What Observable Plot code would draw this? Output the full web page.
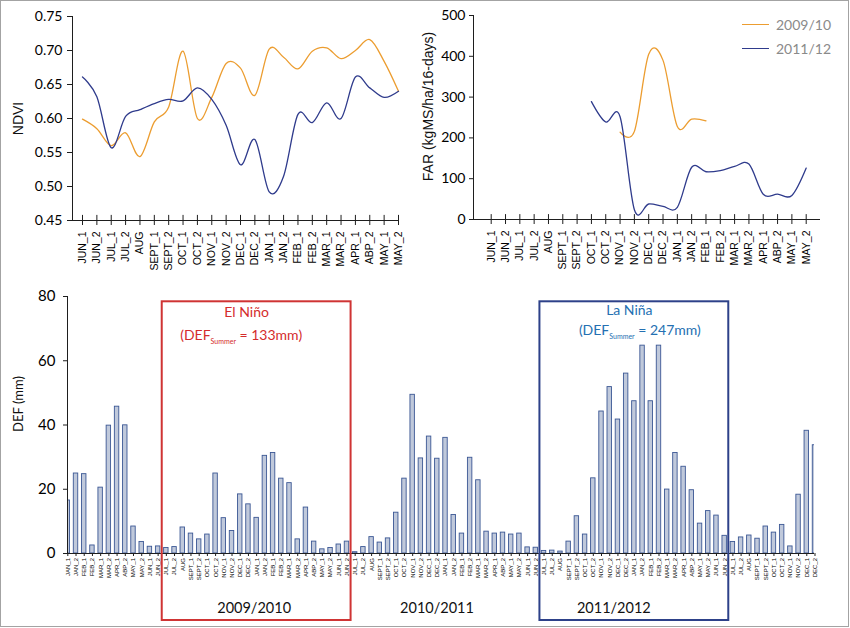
<!DOCTYPE html>
<html>
<head>
<meta charset="utf-8">
<script src="https://cdn.jsdelivr.net/npm/d3@7"></script>
<script src="https://cdn.jsdelivr.net/npm/@observablehq/plot@0.6"></script>
<style>
  body { margin: 0; background: #fff; }
  #root { position: relative; width: 850px; height: 628px; overflow: hidden; background: #fff; }
  #border { position: absolute; left: 0; top: 0; width: 849px; height: 627px; box-sizing: border-box; border: 1.5px solid #a3a3a3; pointer-events: none; }
  .panel { position: absolute; }
  .panel svg { overflow: visible; }
  #legend { position: absolute; left: 742px; top: 12px; font-family: Lato, sans-serif; font-size: 14px; color: #8a8a8a; }
  #legend div { display: flex; align-items: center; height: 24px; }
  #legend span.sw { display: inline-block; width: 27px; height: 0; border-top: 1.4px solid; margin-right: 7px; }
</style>
</head>
<body>
<div id="root">
  <div id="p1" class="panel" style="left:0;top:0"></div>
  <div id="p2" class="panel" style="left:420px;top:0"></div>
  <div id="p3" class="panel" style="left:0;top:280px"></div>
  <div id="legend"></div>
  <div id="border"></div>
</div>
<script>
// ---------- data ----------
const seasonPeriods = ["JUN_1","JUN_2","JUL_1","JUL_2","AUG","SEPT_1","SEPT_2","OCT_1","OCT_2","NOV_1","NOV_2","DEC_1","DEC_2","JAN_1","JAN_2","FEB_1","FEB_2","MAR_1","MAR_2","APR_1","ABP_2","MAY_1","MAY_2"];
const seriesNames = ["2009/10", "2011/12"];
const seriesColors = ["#ec9d30", "#2f3b8c"];

const ndvi0910 = [0.599,0.585,0.560,0.579,0.544,0.595,0.617,0.699,0.600,0.631,0.681,0.674,0.634,0.702,0.690,0.673,0.699,0.704,0.688,0.700,0.716,0.684,0.640];
const ndvi1112 = [0.661,0.632,0.557,0.603,0.613,0.622,0.628,0.626,0.645,0.628,0.590,0.532,0.569,0.492,0.515,0.606,0.594,0.623,0.600,0.661,0.645,0.631,0.640];
const ndviTicks = [0.45,0.50,0.55,0.60,0.65,0.70,0.75];

const far0910 = [null,null,null,null,null,null,null,null,null,214,216,405,390,228,246,242,null,null,null,null,null,null,null];
const far1112 = [null,null,null,null,null,null,null,289,239,252,24,38,32,30,128,117,120,130,136,62,62,59,126];
const farTicks = [0,100,200,300,400,500];

const defPeriods = ["JAN_1","JAN_2","FEB_1","FEB_2","MAR_1","MAR_2","APR_1","ABP_2","MAY_1","MAY_2","JUN_1","JUN_2","JUL_1","JUL_2","AUG","SEPT_1","SEPT_2","OCT_1","OCT_2","NOV_1","NOV_2","DEC_1","DEC_2"];
const defYears = [2009, 2010, 2011, 2012];
const def2009 = [16.5,24.9,24.7,2.5,20.5,39.8,45.7,39.9,8.4,3.6,2.1,2.2,1.7,2.0,8.1,6.2,4.4,5.9,24.9,11.0,7.0,18.4,15.3];
const def2010 = [11.1,30.4,31.3,23.3,21.9,4.4,14.3,3.7,1.3,1.7,2.8,3.7,0.4,2.0,5.1,3.4,4.7,12.7,23.3,49.4,29.6,36.4,29.5];
const def2011 = [36.0,12.0,6.2,29.8,22.8,6.8,6.2,6.5,5.9,6.2,1.9,1.8,0.8,0.9,0.6,3.7,11.6,5.9,23.4,44.2,51.8,41.7,56.0];
const def2012 = [47.4,64.7,47.4,64.7,19.9,31.3,27.0,19.7,9.3,13.2,11.8,5.5,3.6,5.0,5.6,4.6,8.4,6.5,8.9,2.2,18.3,38.2,33.7];
const defTicks = [0,20,40,60,80];

const ensoNames = ["El Niño", "La Niña"];
const ensoDef = ["133mm", "247mm"];
const ensoFrom = ["2009 JUL_1", "2011 JUL_1"];
const ensoTo = ["2010 JUN_2", "2012 JUN_2"];
const seasonLabels = ["2009/2010", "2010/2011", "2011/2012"];
const seasonFrom = ["2009 JUL_1", "2010 JUL_1", "2011 JUL_1"];
const seasonTo = ["2010 JUN_2", "2011 JUN_2", "2012 JUN_2"];

// ---------- helpers ----------
const axisColor = "#1e1e1e";
const rowsOf = (vals) => seasonPeriods.map((p, i) => ({period: p, value: vals[i]})).filter(d => d.value != null);

// ---------- NDVI panel ----------
const ndviPlot = Plot.plot({
  width: 420, height: 280,
  marginLeft: 72, marginRight: 21, marginTop: 16, marginBottom: 60,
  style: {background: "transparent", overflow: "visible"},
  x: {type: "point", domain: seasonPeriods, range: [82, 398], padding: 0, round: false},
  y: {domain: [0.45, 0.75]},
  marks: [
    Plot.frame({anchor: "left", stroke: axisColor}),
    Plot.ruleY([0.45], {stroke: axisColor}),
    Plot.ruleX(seasonPeriods, {x: d => d, y1: 0.45, y2: 0.4575, stroke: axisColor}),
    Plot.axisY(ndviTicks, {tickSize: 5, tickPadding: 5, tickFormat: d3.format(".2f"), fontSize: 14, fontFamily: "Lato", label: null, stroke: axisColor}),
    Plot.axisX({tickRotate: -90, tickSize: 5, tickPadding: 6, fontSize: 10.5, fontFamily: "Liberation Sans", label: null, stroke: axisColor}),
    Plot.text(["NDVI"], {text: d => d, frameAnchor: "left", dx: -54, rotate: -90, textAnchor: "middle", fontSize: 14, fontFamily: "Liberation Sans", fill: "#111"}),
    Plot.line(rowsOf(ndvi0910), {x: "period", y: "value", stroke: seriesColors[0], strokeWidth: 1.3, curve: "cardinal"}),
    Plot.line(rowsOf(ndvi1112), {x: "period", y: "value", stroke: seriesColors[1], strokeWidth: 1.3, curve: "cardinal"})
  ]
});
document.getElementById("p1").append(ndviPlot);

// ---------- FAR panel ----------
const farPlot = Plot.plot({
  width: 430, height: 280,
  marginLeft: 53, marginRight: 30, marginTop: 15, marginBottom: 61,
  style: {background: "transparent", overflow: "visible"},
  x: {type: "point", domain: seasonPeriods, range: [70.7, 385.7], padding: 0, round: false},
  y: {domain: [0, 500]},
  marks: [
    Plot.frame({anchor: "left", stroke: axisColor}),
    Plot.ruleY([0], {stroke: axisColor}),
    Plot.ruleX(seasonPeriods, {x: d => d, y1: 0, y2: 12, stroke: axisColor}),
    Plot.axisY(farTicks, {tickSize: 4, tickPadding: 4, fontSize: 14, fontFamily: "Lato", label: null, stroke: axisColor}),
    Plot.axisX({tickRotate: -90, tickSize: 5, tickPadding: 6, fontSize: 10.5, fontFamily: "Liberation Sans", label: null, stroke: axisColor}),
    Plot.text(["FAR (kgMS/ha/16-days)"], {text: d => d, frameAnchor: "left", dx: -45, dy: -11, rotate: -90, textAnchor: "middle", fontSize: 14, fontFamily: "Liberation Sans", fill: "#111"}),
    Plot.line(rowsOf(far0910), {x: "period", y: "value", stroke: seriesColors[0], strokeWidth: 1.3, curve: "cardinal"}),
    Plot.line(rowsOf(far1112), {x: "period", y: "value", stroke: seriesColors[1], strokeWidth: 1.3, curve: "cardinal"})
  ]
});
document.getElementById("p2").append(farPlot);

// legend
const legend = document.getElementById("legend");
seriesNames.forEach((name, i) => {
  const row = document.createElement("div");
  const sw = document.createElement("span");
  sw.className = "sw";
  sw.style.borderTopColor = seriesColors[i];
  row.append(sw, document.createTextNode(name));
  legend.append(row);
});

// ---------- DEF panel ----------
const defValues = [def2009, def2010, def2011, def2012];
const defRows = defYears.flatMap((yr, j) => defPeriods.map((p, i) => ({key: yr + " " + p, period: p, value: defValues[j][i]})));
const defKeys = defRows.map(d => d.key);

const defPlot = Plot.plot({
  width: 850, height: 348,
  marginLeft: 67, marginRight: 36, marginTop: 16, marginBottom: 75,
  style: {background: "transparent", overflow: "visible"},
  x: {type: "band", domain: defKeys, range: [63.2, 818.6], paddingInner: 0.46, paddingOuter: 0.23, round: false},
  y: {domain: [0, 80]},
  marks: [
    Plot.barY(defRows, {x: "key", y: "value", fill: "#c0c9db", stroke: "#3b5794", strokeWidth: 0.9, clip: true}),
    Plot.frame({anchor: "left", stroke: axisColor}),
    Plot.ruleY([0], {stroke: axisColor}),
    Plot.axisY(defTicks, {tickSize: 4, tickPadding: 8, fontSize: 15, fontFamily: "Lato", label: null, stroke: axisColor}),
    Plot.axisX({tickRotate: -90, tickSize: 3, tickPadding: 1.5, fontSize: 6, fontFamily: "Liberation Sans", tickFormat: k => k.split(" ")[1], label: null, stroke: axisColor}),
    Plot.text(["DEF (mm)"], {text: d => d, frameAnchor: "left", dx: -49, dy: -21, rotate: -90, textAnchor: "middle", fontSize: 13, fontFamily: "Lato", fill: "#111"})
  ]
});
document.getElementById("p3").append(defPlot);

// annotation boxes and labels, placed with the plot's own scales
const sx = defPlot.scale("x"), sy = defPlot.scale("y");
const step = sx.apply(defKeys[1]) - sx.apply(defKeys[0]);
const bw = sx.bandwidth;
const bandStart = k => sx.apply(k) + bw / 2 - step / 2;
const bandEnd = k => sx.apply(k) + bw / 2 + step / 2;
const svg = d3.select(defPlot);
const ann = svg.append("g");
const boxTop = sy.apply(80) + 5.3;
const boxBottom = sy.apply(0) + 67;
const boxStroke = ["#cf3434", "#2d4189"];
const boxText = ["#d42c2c", "#2470b2"];
const titleDx = [-9.5, -4.5], lineDx = [-15, 6];
const titleY = [sy.apply(80) + 21, sy.apply(80) + 18.5];
const lineY = [sy.apply(80) + 44, sy.apply(80) + 39];
ensoNames.forEach((name, i) => {
  const x1 = bandStart(ensoFrom[i]), x2 = bandEnd(ensoTo[i]);
  ann.append("rect").attr("x", x1).attr("y", boxTop).attr("width", x2 - x1).attr("height", boxBottom - boxTop)
    .attr("fill", "none").attr("stroke", boxStroke[i]).attr("stroke-width", 2);
  const cx = (x1 + x2) / 2;
  ann.append("text").attr("x", cx + titleDx[i]).attr("y", titleY[i]).attr("text-anchor", "middle")
    .attr("font-family", "Lato").attr("font-size", 14).attr("fill", boxText[i]).text(name);
  const t = ann.append("text").attr("x", cx + lineDx[i]).attr("y", lineY[i]).attr("text-anchor", "middle")
    .attr("font-family", "Lato").attr("font-size", 14).attr("fill", boxText[i]);
  t.append("tspan").text("(DEF");
  t.append("tspan").attr("font-size", 7).attr("dy", 4).text("Summer");
  t.append("tspan").attr("dy", -4).text(" = " + ensoDef[i] + ")");
});
const seasonDx = [-2, -8, -20];
seasonLabels.forEach((lab, i) => {
  const cx = (bandStart(seasonFrom[i]) + bandEnd(seasonTo[i])) / 2;
  ann.append("text").attr("x", cx + seasonDx[i]).attr("y", sy.apply(0) + 60).attr("text-anchor", "middle")
    .attr("font-family", "Lato").attr("font-size", 14.5).attr("fill", "#111").text(lab);
});
</script>
</body>
</html>
